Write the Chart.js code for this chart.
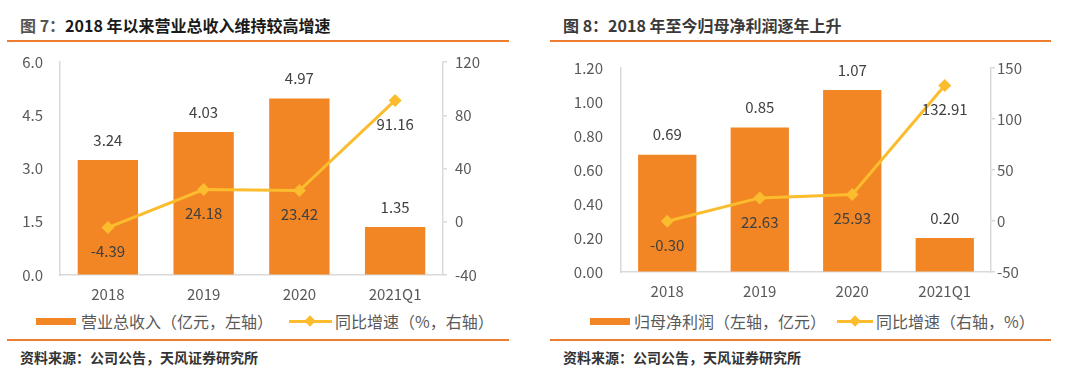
<!DOCTYPE html>
<html>
<head>
<meta charset="utf-8">
<script src="https://cdn.jsdelivr.net/npm/chart.js@4.4.1/dist/chart.umd.min.js"></script>
<style>
  body { margin: 0; width: 1080px; height: 369px; background: #fff; position: relative; overflow: hidden;
         font-family: "Noto Sans CJK SC", "Liberation Sans", sans-serif; }
  .abs { position: absolute; white-space: nowrap; }
  .title { font-size: 16px; line-height: 20px; font-weight: bold; color: #1a1a1a; }
  .rule { height: 2px; background: #ED7D31; }
  .src { font-size: 14px; line-height: 20px; font-weight: bold; color: #333; }
  .leg { font-size: 16px; line-height: 20px; color: #595959; }
  .box { height: 7px; background: #F28524; }
  .ln { height: 3px; background: #FBBC2E; }
  .dia { width: 8px; height: 8px; background: #FBBC2E; transform: rotate(45deg); }
  canvas { position: absolute; }
</style>
</head>
<body>

<!-- 左图 -->
<div class="abs title" style="left:20px;top:15px"><span style="color:#555">图 7：</span>2018 年以来营业总收入维持较高增速</div>
<div class="abs rule" style="left:7px;top:40px;width:502px"></div>
<canvas id="chartLeft" width="520" height="269" style="left:0;top:36px"></canvas>
<div class="abs box" style="left:36px;top:318px;width:40px"></div>
<div class="abs leg" style="left:81px;top:311px">营业总收入（亿元，左轴）</div>
<div class="abs ln" style="left:289px;top:320px;width:43px"></div>
<div class="abs dia" style="left:306px;top:317px"></div>
<div class="abs leg" style="left:335px;top:311px">同比增速（%，右轴）</div>
<div class="abs rule" style="left:7px;top:339px;width:502px"></div>
<div class="abs src" style="left:20px;top:347px">资料来源：公司公告，天风证券研究所</div>

<!-- 右图 -->
<div class="abs title" style="left:563px;top:15px;color:#3a3a3a">图 8：2018 年至今归母净利润逐年上升</div>
<div class="abs rule" style="left:550px;top:40px;width:501px"></div>
<canvas id="chartRight" width="520" height="264" style="left:540px;top:41px"></canvas>
<div class="abs box" style="left:590px;top:318px;width:40px"></div>
<div class="abs leg" style="left:634px;top:311px">归母净利润（左轴，亿元）</div>
<div class="abs ln" style="left:837px;top:320px;width:36px"></div>
<div class="abs dia" style="left:851px;top:317px"></div>
<div class="abs leg" style="left:876px;top:311px">同比增速（右轴，%）</div>
<div class="abs rule" style="left:550px;top:339px;width:501px"></div>
<div class="abs src" style="left:563px;top:347px">资料来源：公司公告，天风证券研究所</div>

<script>
// 数据
var categories = ['2018', '2019', '2020', '2021Q1'];

var revenue = [3.24, 4.03, 4.97, 1.35];          // 营业总收入（亿元）
var revenueGrowth = [-4.39, 24.18, 23.42, 91.16]; // 同比增速（%）
var revenueTicks = [0, 1.5, 3.0, 4.5, 6.0];
var revenueGrowthTicks = [-40, 0, 40, 80, 120];

var profit = [0.69, 0.85, 1.07, 0.20];            // 归母净利润（亿元）
var profitGrowth = [-0.30, 22.63, 25.93, 132.91]; // 同比增速（%）
var profitTicks = [0, 0.2, 0.4, 0.6, 0.8, 1.0, 1.2];
var profitGrowthTicks = [-50, 0, 50, 100, 150];

var barColor = '#F28524';
var lineColor = '#FBBC2E';
var axisColor = '#D9D9D9';
var tickColor = '#595959';
var fontFamily = '"Noto Sans CJK SC", "Liberation Sans", sans-serif';

// 数值标签：柱子上方，折线点下方
var valueLabels = {
  id: 'valueLabels',
  afterDatasetsDraw: function(chart, args, opts) {
    var ctx = chart.ctx;
    ctx.save();
    ctx.font = '15px ' + fontFamily;
    ctx.fillStyle = '#404040';
    ctx.textAlign = 'center';
    ctx.textBaseline = 'middle';
    chart.data.datasets.forEach(function(ds, i) {
      var meta = chart.getDatasetMeta(i);
      meta.data.forEach(function(el, j) {
        var dy = ds.type === 'line' ? opts.lineOffset : -opts.barOffset;
        ctx.fillText(ds.data[j].toFixed(2), el.x, el.y + dy);
      });
    });
    ctx.restore();
  }
};

function makeChart(id, bars, line, leftTicks, rightTicks, decimals, box) {
  var ctx = document.getElementById(id).getContext('2d');
  return new Chart(ctx, {
    data: {
      labels: categories,
      datasets: [{
        type: 'line',
        data: line,
        yAxisID: 'y1',
        borderColor: lineColor,
        backgroundColor: lineColor,
        borderWidth: 3,
        pointStyle: 'rectRot',
        pointRadius: 6.5,
        pointBorderWidth: 0,
        order: 0
      }, {
        type: 'bar',
        data: bars,
        yAxisID: 'y',
        backgroundColor: barColor,
        categoryPercentage: 0.63,
        barPercentage: 1,
        order: 1
      }]
    },
    options: {
      responsive: false,
      animation: false,
      layout: { padding: 0 },
      plugins: {
        legend: { display: false },
        tooltip: { enabled: false },
        valueLabels: { barOffset: 20, lineOffset: 24 }
      },
      scales: {
        x: {
          grid: { display: true, drawOnChartArea: false, drawTicks: false },
          border: { color: axisColor, width: 1.5 },
          ticks: { color: tickColor, font: { size: 15, family: fontFamily }, padding: box.xPad },
          afterFit: function(s) { s.height = box.xHeight; }
        },
        y: {
          position: 'left',
          min: leftTicks[0],
          max: leftTicks[leftTicks.length - 1],
          grid: { display: true, drawOnChartArea: false, drawTicks: false },
          border: { color: axisColor, width: 1.5 },
          ticks: {
            stepSize: leftTicks[1] - leftTicks[0],
            color: tickColor,
            font: { size: 15, family: fontFamily },
            padding: box.leftPad,
            callback: function(v) { return v.toFixed(decimals); }
          },
          afterFit: function(s) { s.width = box.leftWidth; }
        },
        y1: {
          position: 'right',
          min: rightTicks[0],
          max: rightTicks[rightTicks.length - 1],
          grid: { display: true, drawOnChartArea: false, tickLength: 4, color: axisColor, lineWidth: 1.5 },
          border: { color: axisColor, width: 1.5 },
          ticks: {
            stepSize: rightTicks[1] - rightTicks[0],
            color: tickColor,
            font: { size: 15, family: fontFamily },
            padding: box.rightPad
          },
          afterFit: function(s) { s.width = box.rightWidth; }
        }
      }
    },
    plugins: [valueLabels]
  });
}

var chartLeft = makeChart('chartLeft', revenue, revenueGrowth, revenueTicks, revenueGrowthTicks, 1,
  { xHeight: 30, xPad: 10, leftWidth: 60, leftPad: 17, rightWidth: 77, rightPad: 8 });

var chartRight = makeChart('chartRight', profit, profitGrowth, profitTicks, profitGrowthTicks, 2,
  { xHeight: 33, xPad: 10, leftWidth: 81, leftPad: 18, rightWidth: 69, rightPad: 2 });
</script>
</body>
</html>
